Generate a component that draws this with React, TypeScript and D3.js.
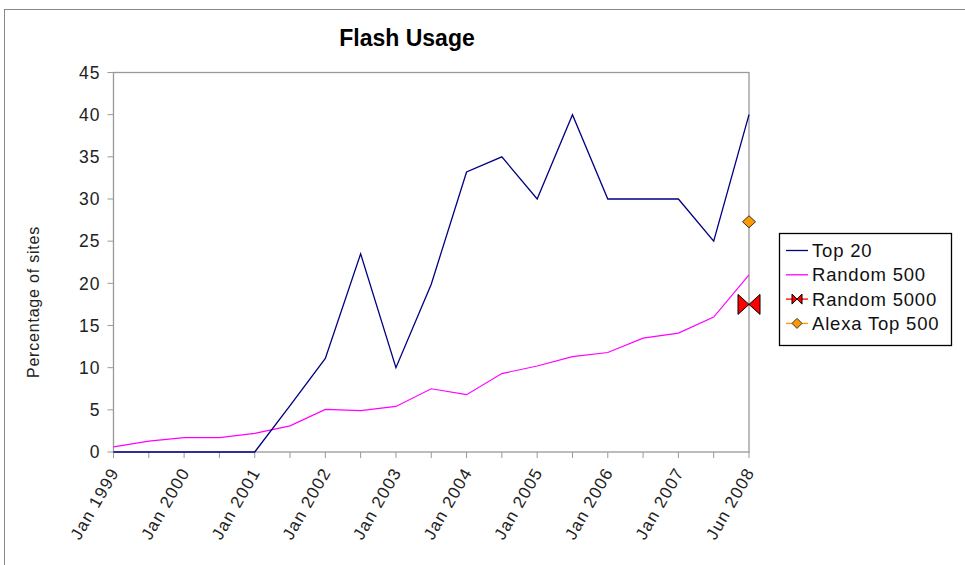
import * as d3 from 'd3';

const categories = [
  'Jan 1999', 'Jul 1999', 'Jan 2000', 'Jul 2000', 'Jan 2001', 'Jul 2001',
  'Jan 2002', 'Jul 2002', 'Jan 2003', 'Jul 2003', 'Jan 2004', 'Jul 2004',
  'Jan 2005', 'Jul 2005', 'Jan 2006', 'Jul 2006', 'Jan 2007', 'Jul 2007', 'Jun 2008',
];
const tickLabels = [
  'Jan 1999', 'Jan 2000', 'Jan 2001', 'Jan 2002', 'Jan 2003', 'Jan 2004',
  'Jan 2005', 'Jan 2006', 'Jan 2007', 'Jun 2008',
];
const top20 = [0, 0, 0, 0, 0, 5.5, 11.1, 23.5, 10, 19.9, 33.2, 35, 30, 40, 30, 30, 30, 25, 40];
const random500 = [0.6, 1.3, 1.7, 1.7, 2.2, 3.1, 5.05, 4.9, 5.4, 7.5, 6.8, 9.3, 10.2, 11.3, 11.8, 13.5, 14.1, 16, 21];
const random5000 = [{ cat: 'Jun 2008', value: 17.5 }];
const alexaTop500 = [{ cat: 'Jun 2008', value: 27.3 }];
const yTicks = [0, 5, 10, 15, 20, 25, 30, 35, 40, 45];

const font = '"Liberation Sans", Arial, sans-serif';

const bowtie = (cx: number, cy: number, w: number, h: number) =>
  `M${cx - w},${cy - h}L${cx},${cy}L${cx - w},${cy + h}Z M${cx + w},${cy - h}L${cx},${cy}L${cx + w},${cy + h}Z`;
const diamond = (cx: number, cy: number, w: number, h: number) =>
  `M${cx},${cy - h}L${cx + w},${cy}L${cx},${cy + h}L${cx - w},${cy}Z`;

export default function App() {
  const width = 965;
  const height = 565;
  const margin = { top: 72.5, right: 215, bottom: 113, left: 113.5 };

  const x = d3.scalePoint<string>().domain(categories).range([margin.left, width - margin.right - 1]);
  const y = d3.scaleLinear().domain([0, 45]).range([height - margin.bottom, margin.top]);

  const line = d3
    .line<number>()
    .x((_, i) => x(categories[i])!)
    .y((d) => y(d));

  const x0 = margin.left;
  const x1 = x(categories[categories.length - 1])!;
  const y0 = y(0);
  const y1 = y(45);

  const legendItems = ['Top 20', 'Random 500', 'Random 5000', 'Alexa Top 500'];

  return (
    <svg
      width={width}
      height={height}
      style={{ position: 'absolute', left: 0, top: 0, background: '#fff' }}
      fontFamily={font}
    >
      <rect x={4.5} y={9.5} width={width + 10} height={height + 10} fill="#fff" stroke="#888" strokeWidth={1} />
      <text x={407} y={46} textAnchor="middle" fontSize={23} fontWeight="bold" fill="#000">
        Flash Usage
      </text>

      {/* plot frame */}
      <rect x={x0} y={y1} width={x1 - x0} height={y0 - y1} fill="#fff" stroke="#999" strokeWidth={1.3} />

      {yTicks.map((t) => (
        <g key={t}>
          <line x1={x0 - 6} x2={x0} y1={y(t)} y2={y(t)} stroke="#999" strokeWidth={1} />
          <text x={x0 - 13} y={y(t)} dy="0.36em" textAnchor="end" fontSize={17.5} letterSpacing={1} fill="#222">
            {t}
          </text>
        </g>
      ))}

      {categories.map((c) => (
        <line key={c} x1={x(c)} x2={x(c)} y1={y0} y2={y0 + 6} stroke="#999" strokeWidth={1} />
      ))}
      {tickLabels.map((c) => (
        <text
          key={c}
          transform={`translate(${x(c)! + 1},${y0 + 17}) rotate(-60)`}
          textAnchor="end"
          dy="0.35em"
          fontSize={17}
          letterSpacing={1.2}
          fill="#222"
        >
          {c}
        </text>
      ))}

      <text
        transform="translate(39,302) rotate(-90)"
        textAnchor="middle"
        fontSize={16}
        letterSpacing={0.8}
        fill="#222"
      >
        Percentage of sites
      </text>

      <path d={line(random500)!} fill="none" stroke="#ff00ff" strokeWidth={1.2} />
      <path d={line(top20)!} fill="none" stroke="#000080" strokeWidth={1.3} />

      {random5000.map((d) => (
        <path
          key={d.cat}
          d={bowtie(x(d.cat)!, y(d.value), 11, 10)}
          fill="#ff0000"
          stroke="#000"
          strokeWidth={1}
        />
      ))}
      {alexaTop500.map((d) => (
        <path key={d.cat} d={diamond(x(d.cat)!, y(d.value), 6.5, 6)} fill="#ff9900" stroke="#333" strokeWidth={1} />
      ))}

      {/* legend */}
      <rect x={779.5} y={233.5} width={172} height={112} fill="#fff" stroke="#000" strokeWidth={1.3} />
      {legendItems.map((name, i) => {
        const ly = 250.5 + i * 24.3;
        const color = ['#000080', '#ff00ff', '#ff0000', '#ff9900'][i];
        return (
          <g key={name}>
            <line x1={786} x2={808} y1={ly} y2={ly} stroke={color} strokeWidth={1.3} />
            {i === 2 && <path d={bowtie(797, ly, 5, 5)} fill="#ff0000" stroke="#000" strokeWidth={1} />}
            {i === 3 && <path d={diamond(797, ly, 5, 5)} fill="#ff9900" stroke="#333" strokeWidth={1} />}
            <text x={812} y={ly} dy="0.36em" fontSize={18.5} letterSpacing={0.8} fill="#111">
              {name}
            </text>
          </g>
        );
      })}
    </svg>
  );
}
